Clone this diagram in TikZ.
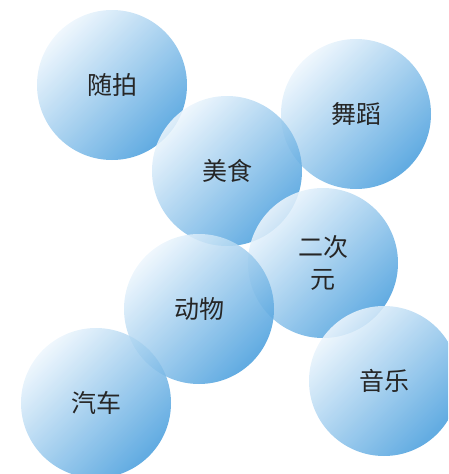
\documentclass[tikz,border=0pt]{standalone}
\usepackage{fontspec}
\newfontfamily\cjk{Noto Sans CJK SC}
\begin{document}
\begin{tikzpicture}[x=1pt,y=-1pt,
  bubble/.style={circle,minimum size=150pt,inner sep=0pt,
    top color=bubLight,bottom color=bubDark,shading angle=45,
    fill opacity=0.88,text opacity=1,text=txt,
    font=\cjk\fontsize{25}{32}\selectfont,align=center}]
\definecolor{bubLight}{HTML}{EDF6FD}
\definecolor{bubDark}{HTML}{4A9FDD}
\definecolor{txt}{HTML}{262626}
\useasboundingbox (0,0) rectangle (448,474);
\clip (0,0) rectangle (448,474);
\node[bubble] (suipai) at (112,85) {随拍};
\node[bubble] (wudao) at (356,114) {舞蹈};
\node[bubble] (meishi) at (227,171) {美食};
\node[bubble] (erciyuan) at (323,263) {二次\\元};
\node[bubble] (dongwu) at (199,309) {动物};
\node[bubble] (qiche) at (96,403) {汽车};
\node[bubble] (yinyue) at (384,381) {音乐};
\end{tikzpicture}
\end{document}
